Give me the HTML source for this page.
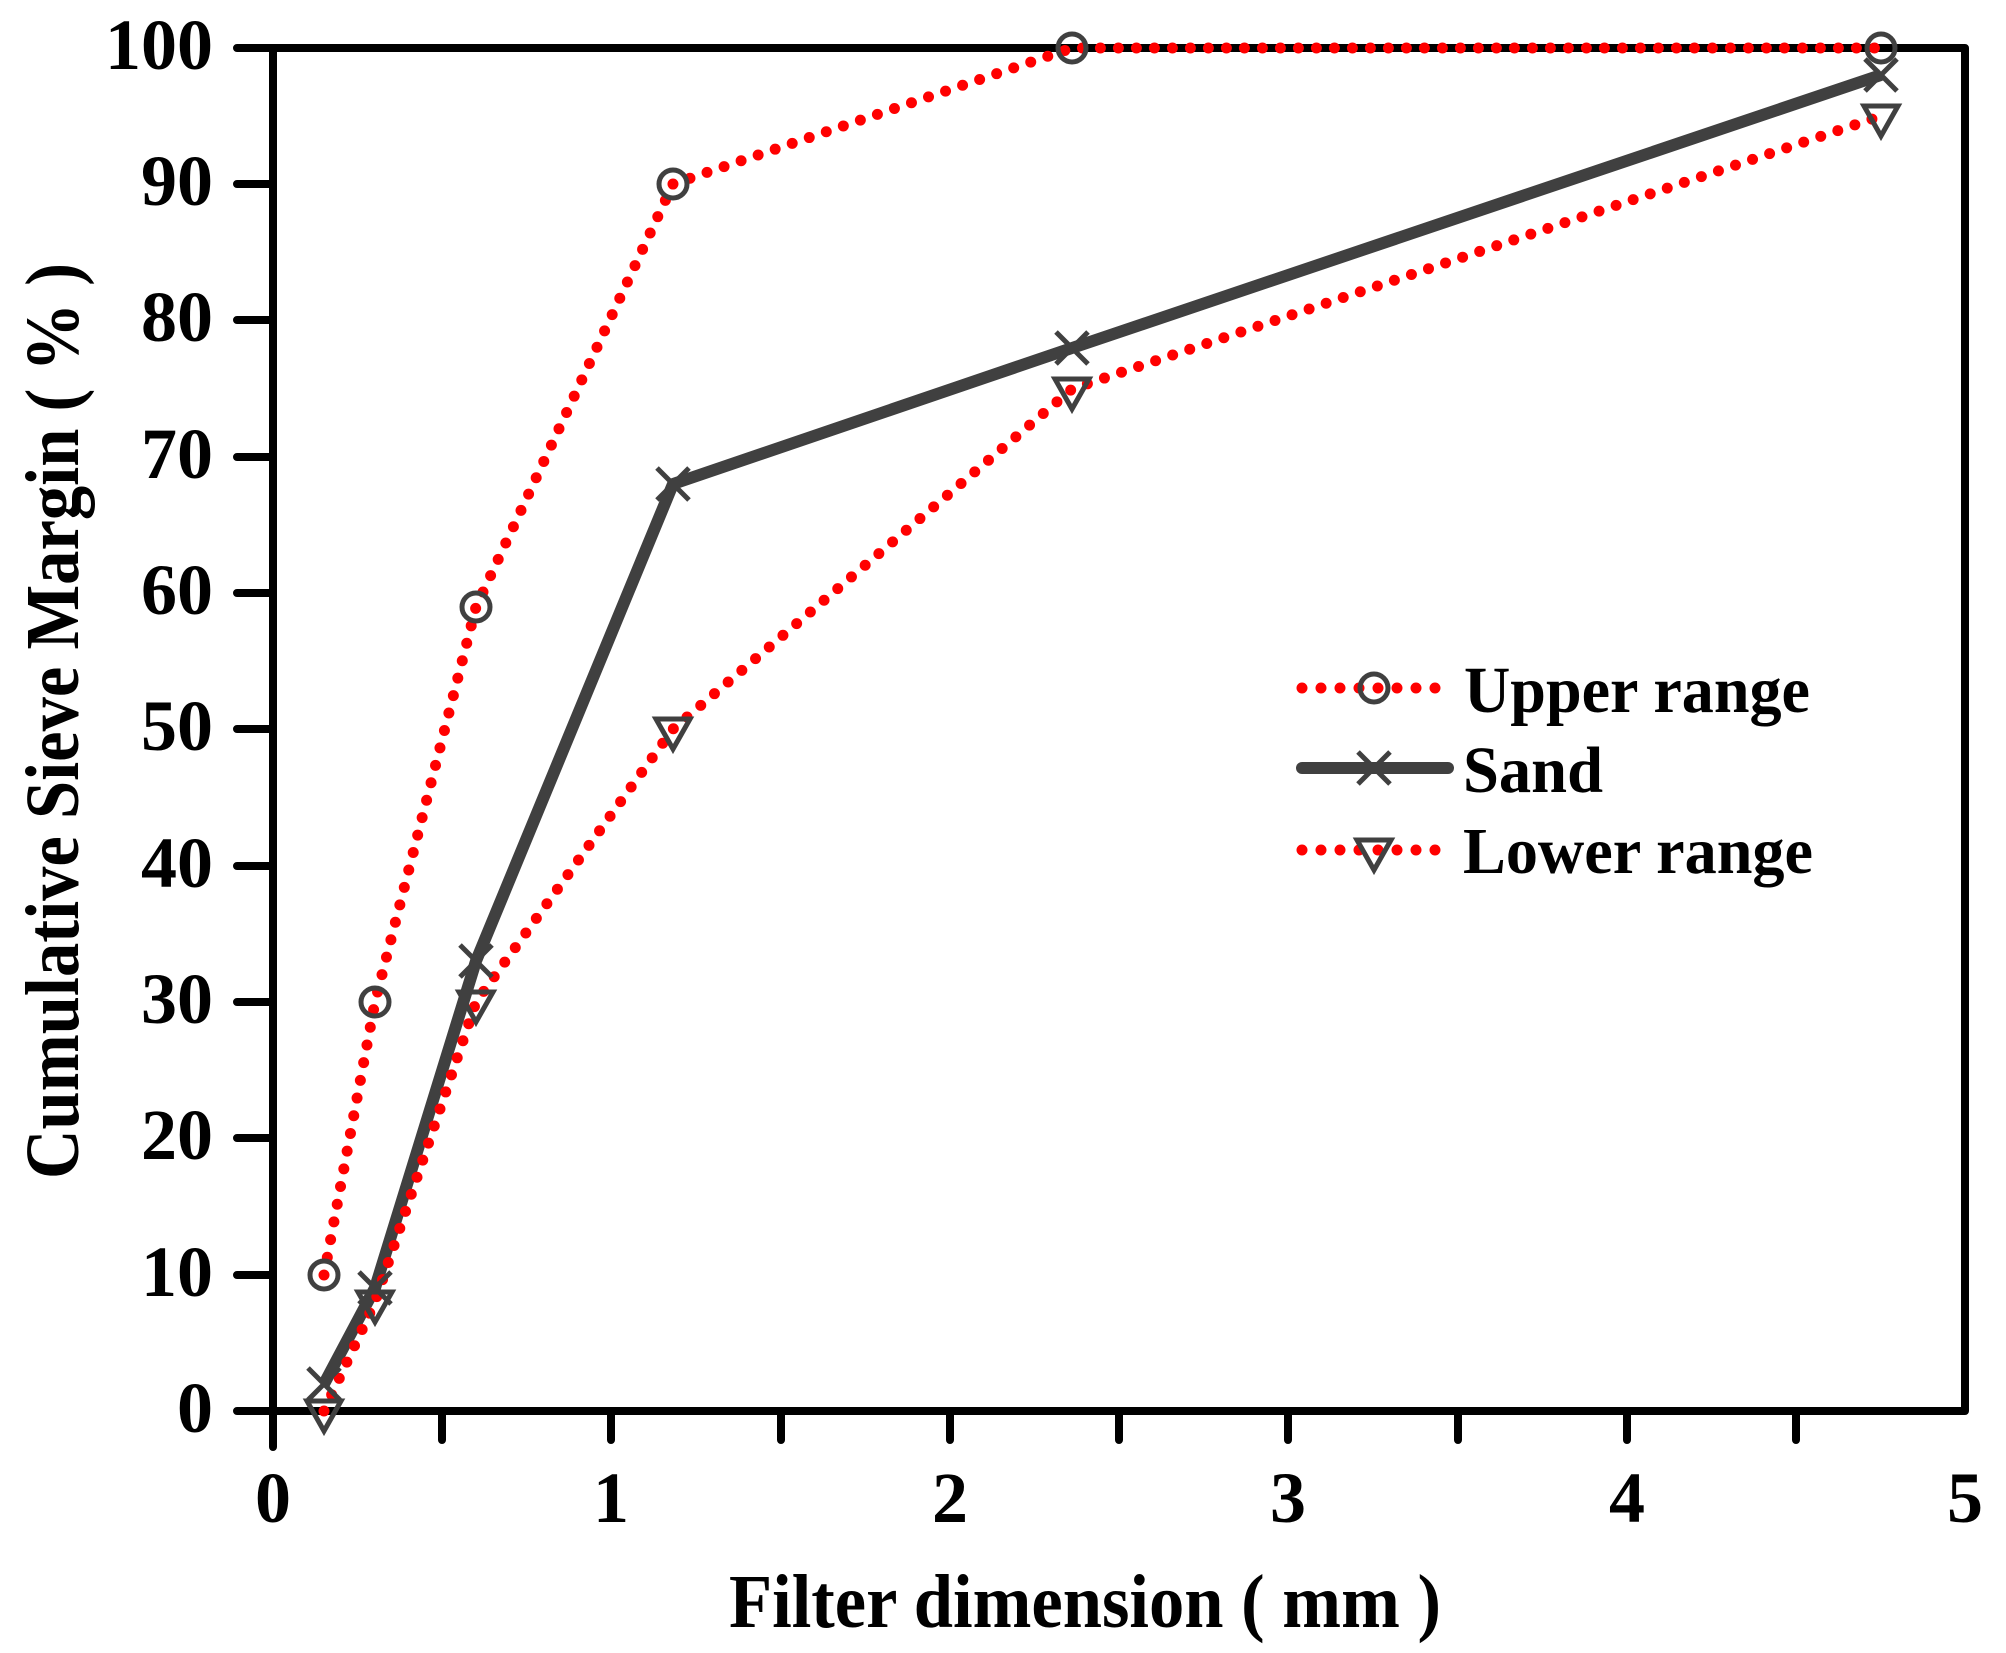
<!DOCTYPE html>
<html><head><meta charset="utf-8"><style>html,body{margin:0;padding:0;background:#fff}svg{display:block}</style></head>
<body>
<svg width="2006" height="1653" viewBox="0 0 2006 1653" xmlns="http://www.w3.org/2000/svg" font-family="Liberation Serif, serif" font-weight="bold">
<defs>
<g id="circ"><circle r="14" fill="none" stroke="#404040" stroke-width="5"/></g>
<g id="cross"><path d="M-16,-16L16,16M-16,16L16,-16" stroke="#404040" stroke-width="5" fill="none"/></g>
<g id="tri"><path d="M-17,-10L17,-10L0,20Z" fill="none" stroke="#404040" stroke-width="5" stroke-linejoin="miter"/></g>
</defs>
<g stroke="#000" stroke-width="8" stroke-linecap="round" fill="none">
<path d="M273,48 L1965,48 L1965,1411 L273,1411 Z" stroke-linejoin="round"/>
<path d="M237,48H273M237,184H273M237,320H273M237,457H273M237,593H273M237,729H273M237,866H273M237,1002H273M237,1138H273M237,1275H273M237,1411H273"/>
<path d="M273,1411V1447M442,1411V1440M611,1411V1440M781,1411V1440M950,1411V1440M1119,1411V1440M1288,1411V1440M1458,1411V1440M1627,1411V1440M1796,1411V1440"/>
</g>
<g font-size="72" text-anchor="end">
<text x="213" y="69">100</text><text x="213" y="205">90</text><text x="213" y="341">80</text><text x="213" y="478">70</text><text x="213" y="614">60</text><text x="213" y="750">50</text><text x="213" y="887">40</text><text x="213" y="1023">30</text><text x="213" y="1159">20</text><text x="213" y="1296">10</text><text x="213" y="1432">0</text>
</g>
<g font-size="72" text-anchor="middle">
<text x="273" y="1522">0</text><text x="611" y="1522">1</text><text x="950" y="1522">2</text><text x="1288" y="1522">3</text><text x="1627" y="1522">4</text><text x="1965" y="1522">5</text>
</g>
<text x="729" y="1627" font-size="76" textLength="712" lengthAdjust="spacingAndGlyphs">Filter dimension ( mm )</text>
<text transform="translate(78,1179) rotate(-90)" font-size="76" textLength="916" lengthAdjust="spacingAndGlyphs">Cumulative Sieve Margin ( % )</text>
<polyline fill="none" stroke="#404040" stroke-width="12" stroke-linejoin="miter" points="324,1384 375,1288 476,961 673,484 1072,348 1881,75"/>
<polyline fill="none" stroke="#f00" stroke-width="11" stroke-linecap="round" stroke-dasharray="0 18" points="324,1275 375,1002 476,607 673,184 1072,48 1881,48"/>
<polyline fill="none" stroke="#f00" stroke-width="11" stroke-linecap="round" stroke-dasharray="0 18" points="324,1411 375,1302 476,1002 673,729 1072,389 1881,116"/>
<g>
<use href="#circ" x="324" y="1275"/><use href="#circ" x="375" y="1002"/><use href="#circ" x="476" y="607"/><use href="#circ" x="673" y="184"/><use href="#circ" x="1072" y="48"/><use href="#circ" x="1881" y="48"/>
<use href="#cross" x="324" y="1384"/><use href="#cross" x="375" y="1288"/><use href="#cross" x="476" y="961"/><use href="#cross" x="673" y="484"/><use href="#cross" x="1072" y="348"/><use href="#cross" x="1881" y="75"/>
<use href="#tri" x="324" y="1411"/><use href="#tri" x="375" y="1302"/><use href="#tri" x="476" y="1002"/><use href="#tri" x="673" y="729"/><use href="#tri" x="1072" y="389"/><use href="#tri" x="1881" y="116"/>
</g>
<line x1="1302" y1="688" x2="1440" y2="688" stroke="#f00" stroke-width="11" stroke-linecap="round" stroke-dasharray="0 19"/>
<use href="#circ" x="1374" y="688"/>
<line x1="1302" y1="768" x2="1448" y2="768" stroke="#404040" stroke-width="12" stroke-linecap="round"/>
<use href="#cross" x="1374" y="768"/>
<line x1="1302" y1="850" x2="1440" y2="850" stroke="#f00" stroke-width="11" stroke-linecap="round" stroke-dasharray="0 19"/>
<use href="#tri" x="1374" y="850"/>
<g font-size="66">
<text x="1464" y="712" textLength="346" lengthAdjust="spacingAndGlyphs">Upper range</text>
<text x="1463" y="792" textLength="140" lengthAdjust="spacingAndGlyphs">Sand</text>
<text x="1463" y="873" textLength="350" lengthAdjust="spacingAndGlyphs">Lower range</text>
</g>
</svg>
</body></html>
